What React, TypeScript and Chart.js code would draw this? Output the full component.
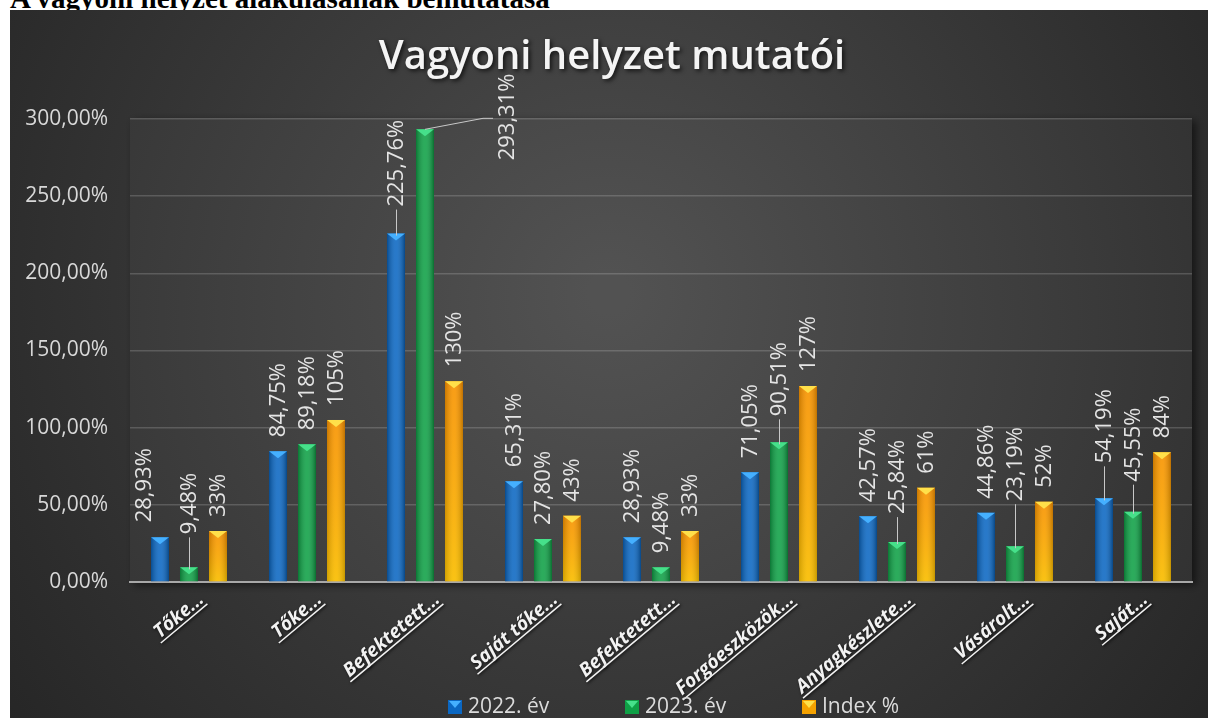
import React, { useEffect, useRef } from "react";
import { Chart, registerables } from "chart.js";

Chart.register(...registerables);

const CATEGORIES = [
  "Tőke...",
  "Tőke...",
  "Befektetett...",
  "Saját tőke...",
  "Befektetett...",
  "Forgóeszközök...",
  "Anyagkészlete...",
  "Vásárolt...",
  "Saját...",
];
const SERIES_NAMES = ["2022. év", "2023. év", "Index %"];
const VALUES_2022 = [28.93, 84.75, 225.76, 65.31, 28.93, 71.05, 42.57, 44.86, 54.19];
const VALUES_2023 = [9.48, 89.18, 293.31, 27.8, 9.48, 90.51, 25.84, 23.19, 45.55];
const VALUES_INDEX = [33, 105, 130, 43, 33, 127, 61, 52, 84];
const Y_MIN = 0;
const Y_MAX = 300;
const Y_STEP = 50;

const TITLE = "Vagyoni helyzet mutatói";
const PAGE_HEADING = "A vagyoni helyzet alakulásának bemutatása";

// styling
const BASE_COLORS = ["#0b67c2", "#0fa046", "#f5a200"];
const CAP_COLORS = ["#45b0ff", "#46e08a", "#ffe04a"];
const FONT = "'Open Sans', sans-serif";

// label placement tweaks (layout only): key = datasetIndex-categoryIndex
const LABEL_LAYOUT: Record<string, { dx?: number; gap?: number; leader?: boolean; path?: number[][] }> = {
  "0-0": { dx: -16, gap: 15 },
  "1-0": { gap: 33, leader: true },
  "0-2": { gap: 27, leader: true },
  "1-2": { dx: 82, gap: -31, path: [[0, 0], [58, -11], [68, -11]] },
  "1-5": { gap: 26, leader: true },
  "1-6": { gap: 28, leader: true },
  "1-7": { gap: 45, leader: true },
  "0-8": { gap: 35, leader: true },
  "1-8": { gap: 30, leader: true },
};

function fmtLabel(ds: number, v: number) {
  if (ds === 2) return `${v}%`;
  return v.toFixed(2).replace(".", ",") + "%";
}

const decorPlugin = {
  id: "decor",
  beforeDraw(chart: any) {
    const { ctx, width, height, chartArea } = chart;
    ctx.save();
    const g = ctx.createRadialGradient(width * 0.5, height * 0.35, 20, width * 0.5, height * 0.4, width * 0.62);
    g.addColorStop(0, "#4c4c4c");
    g.addColorStop(1, "#262626");
    ctx.fillStyle = g;
    ctx.fillRect(0, 0, width, height);

    // plot area panel
    const { left, top, right, bottom } = chartArea;
    ctx.shadowColor = "rgba(0,0,0,0.55)";
    ctx.shadowBlur = 8;
    ctx.shadowOffsetX = 4;
    ctx.shadowOffsetY = 3;
    const pg = ctx.createRadialGradient(width * 0.5, height * 0.4, 20, width * 0.5, height * 0.45, width * 0.6);
    pg.addColorStop(0, "#525252");
    pg.addColorStop(1, "#2e2e2e");
    ctx.fillStyle = pg;
    ctx.fillRect(left, top - 1, right - left, bottom - top + 1);
    ctx.restore();
  },
  afterDatasetsDraw(chart: any) {
    const { ctx } = chart;
    ctx.save();
    chart.data.datasets.forEach((_: any, di: number) => {
      const meta = chart.getDatasetMeta(di);
      meta.data.forEach((el: any) => {
        const { x, y, base, width } = el.getProps(["x", "y", "base", "width"], true);
        const l = x - width / 2;
        const h = base - y;
        const hg = ctx.createLinearGradient(l, 0, l + width, 0);
        hg.addColorStop(0, "rgba(0,0,0,0.25)");
        hg.addColorStop(0.45, "rgba(255,255,255,0.12)");
        hg.addColorStop(0.55, "rgba(255,255,255,0.12)");
        hg.addColorStop(1, "rgba(0,0,0,0.3)");
        ctx.fillStyle = hg;
        ctx.fillRect(l, y, width, h);
        if (di === 2) {
          const vg = ctx.createLinearGradient(0, y, 0, base);
          vg.addColorStop(0, "rgba(255,110,0,0.25)");
          vg.addColorStop(1, "rgba(255,235,0,0.35)");
          ctx.fillStyle = vg;
          ctx.fillRect(l, y, width, h);
        }
        // cap
        ctx.fillStyle = CAP_COLORS[di];
        ctx.beginPath();
        ctx.moveTo(l, y);
        ctx.lineTo(l + width, y);
        ctx.lineTo(x, y + 7);
        ctx.closePath();
        ctx.fill();
      });
    });

    // data labels
    ctx.font = `22px ${FONT}`;
    ctx.fillStyle = "#e4e4e4";
    ctx.strokeStyle = "#c8c8c8";
    ctx.lineWidth = 1;
    chart.data.datasets.forEach((ds: any, di: number) => {
      const meta = chart.getDatasetMeta(di);
      meta.data.forEach((el: any, i: number) => {
        const { x, y } = el.getProps(["x", "y"], true);
        const lay = LABEL_LAYOUT[`${di}-${i}`] || {};
        const dx = lay.dx ?? 0;
        const gap = lay.gap ?? 14;
        if (lay.leader) {
          ctx.beginPath();
          ctx.moveTo(x + 0.5, y + 2);
          ctx.lineTo(x + 0.5, y - gap + 3);
          ctx.stroke();
        }
        if (lay.path) {
          ctx.beginPath();
          lay.path.forEach((p, k) => {
            if (k === 0) ctx.moveTo(x + p[0], y + p[1]);
            else ctx.lineTo(x + p[0], y + p[1]);
          });
          ctx.stroke();
        }
        ctx.save();
        ctx.translate(x + dx, y - gap);
        ctx.rotate(-Math.PI / 2);
        ctx.textAlign = "left";
        ctx.textBaseline = "middle";
        ctx.fillText(fmtLabel(di, ds.data[i]), 0, 1);
        ctx.restore();
      });
    });
    ctx.restore();
  },
  afterDraw(chart: any) {
    const { ctx, width } = chart;
    const xScale = chart.scales.x;
    ctx.save();
    // title
    ctx.font = `600 40px ${FONT}`;
    ctx.textAlign = "center";
    ctx.textBaseline = "alphabetic";
    ctx.shadowColor = "rgba(0,0,0,0.7)";
    ctx.shadowBlur = 4;
    ctx.shadowOffsetX = 2;
    ctx.shadowOffsetY = 2;
    ctx.fillStyle = "#f4f4f4";
    ctx.fillText(TITLE, width / 2 + 3, 59);

    // category labels
    ctx.font = `italic bold 19px ${FONT}`;
    CATEGORIES.forEach((c, i) => {
      const cx = xScale.getPixelForValue(i);
      ctx.save();
      ctx.translate(cx + 16, 591);
      ctx.rotate((-40 * Math.PI) / 180);
      ctx.textAlign = "right";
      ctx.textBaseline = "alphabetic";
      ctx.shadowColor = "rgba(0,0,0,0.8)";
      ctx.shadowBlur = 3;
      ctx.shadowOffsetX = 1;
      ctx.shadowOffsetY = 1;
      ctx.fillStyle = "#f2f2f2";
      ctx.fillText(c, 0, 0);
      const w = ctx.measureText(c).width;
      ctx.fillRect(-w - 2, 3, w + 2, 1.5);
      ctx.restore();
    });

    // legend
    ctx.shadowColor = "transparent";
    ctx.font = `21px ${FONT}`;
    ctx.textAlign = "left";
    ctx.textBaseline = "middle";
    const lx = [438, 615, 792];
    SERIES_NAMES.forEach((n, k) => {
      const mx = lx[k];
      const my = 690;
      ctx.fillStyle = BASE_COLORS[k];
      ctx.fillRect(mx, my, 14, 14);
      ctx.fillStyle = CAP_COLORS[k];
      ctx.beginPath();
      ctx.moveTo(mx + 1, my + 1);
      ctx.lineTo(mx + 13, my + 1);
      ctx.lineTo(mx + 7, my + 8);
      ctx.closePath();
      ctx.fill();
      ctx.fillStyle = "#dcdcdc";
      ctx.fillText(n, mx + 20, 697);
    });
    ctx.restore();
  },
};

export default function App() {
  const ref = useRef<HTMLCanvasElement | null>(null);
  useEffect(() => {
    if (!ref.current) return;
    const chart = new Chart(ref.current, {
      type: "bar",
      data: {
        labels: CATEGORIES,
        datasets: [VALUES_2022, VALUES_2023, VALUES_INDEX].map((d, k) => ({
          label: SERIES_NAMES[k],
          data: d,
          backgroundColor: BASE_COLORS[k],
          borderWidth: 0,
          categoryPercentage: 0.737,
          barPercentage: 0.62,
        })),
      },
      options: {
        animation: false,
        responsive: false,
        events: [],
        layout: { padding: { top: 109, right: 16, left: 0, bottom: 0 } },
        plugins: {
          legend: { display: false },
          title: { display: false },
          tooltip: { enabled: false },
        },
        scales: {
          x: {
            ticks: { display: false },
            grid: { display: false, drawTicks: false },
            border: { display: true, color: "#a8a8a8", width: 2 },
            afterFit: (s: any) => {
              s.height = 136;
            },
          },
          y: {
            min: Y_MIN,
            max: Y_MAX,
            ticks: {
              stepSize: Y_STEP,
              color: "#d8d8d8",
              font: { family: FONT, size: 21 },
              padding: 22,
              callback: (v: any) => Number(v).toFixed(2).replace(".", ",") + "%",
            },
            grid: { color: "rgba(255,255,255,0.17)", lineWidth: 1.5, drawTicks: false },
            border: { display: false },
            afterFit: (s: any) => {
              s.width = 120;
            },
          },
        },
      },
      plugins: [decorPlugin],
    });
    return () => chart.destroy();
  }, []);

  return (
    <div style={{ position: "absolute", left: 0, top: 0, width: 1209, height: 718, overflow: "hidden", background: "#fff" }}>
      <div
        style={{
          position: "absolute",
          left: 10,
          top: -16,
          font: "bold 29px 'Liberation Serif', 'Times New Roman', serif",
          lineHeight: "29px",
          whiteSpace: "nowrap",
          color: "#000",
        }}
      >
        {PAGE_HEADING}
      </div>
      <canvas
        ref={ref}
        width={1198}
        height={708}
        style={{ position: "absolute", left: 10, top: 10, width: 1198, height: 708 }}
      />
    </div>
  );
}
